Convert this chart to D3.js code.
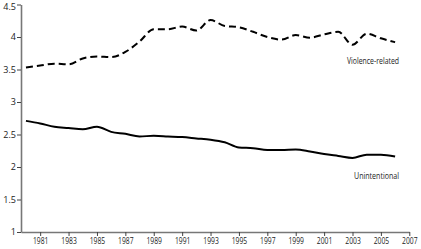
<!DOCTYPE html>
<html lang="en">
<head>
  <meta charset="UTF-8">
  <title>Violence-related vs unintentional</title>
  <script src="https://cdn.jsdelivr.net/npm/d3@7"></script>
  <style>
    body {
      margin: 0;
      background: #fff;
    }

    text {
      font-family: "Open Sans", sans-serif;
      fill: #222;
    }
  </style>
</head>
<body>
<svg id="chart" width="421" height="249"></svg>
<script>
  let years = d3.range(1980, 2007);
  let violence = [3.53, 3.56, 3.59, 3.58, 3.67, 3.70, 3.69, 3.77, 3.93, 4.12, 4.12, 4.16, 4.10, 4.26,
    4.17, 4.15, 4.08, 4.00, 3.96, 4.03, 3.99, 4.04, 4.08, 3.88, 4.05, 3.98, 3.92];
  let unintentional = [2.71, 2.67, 2.62, 2.60, 2.58, 2.62, 2.54, 2.51, 2.47, 2.48, 2.47, 2.46, 2.44, 2.42,
    2.38, 2.30, 2.29, 2.26, 2.26, 2.27, 2.24, 2.20, 2.17, 2.14, 2.19, 2.19, 2.16];
  let xTicks = d3.range(1981, 2008, 2);
  let yTicks = [1, 1.5, 2, 2.5, 3, 3.5, 4, 4.5];

  let svg = d3.select("#chart");

  let x = d3.scaleLinear().domain([1979.65, 2007]).range([21, 409.3]);
  let y = d3.scaleLinear().domain([1, 4.5]).range([232, 4.5]);

  let xAxis = svg.append("g")
      .attr("transform", "translate(0,232)")
      .call(d3.axisBottom(x).tickValues(xTicks).tickFormat(d3.format("d")).tickSize(4).tickSizeOuter(0));

  let yAxis = svg.append("g")
      .attr("transform", "translate(21,0)")
      .call(d3.axisLeft(y).tickValues(yTicks).tickFormat(d => d).tickSize(4).tickSizeOuter(0));

  [xAxis, yAxis].forEach(g => {
    g.select(".domain").attr("stroke", "#777").attr("stroke-width", 1.6);
    g.selectAll(".tick line").attr("stroke", "#444");
    g.selectAll(".tick text").attr("font-size", 9).attr("fill", "#222");
  });
  xAxis.selectAll(".tick text")
      .attr("dy", "0.55em")
      .attr("textLength", 15.5)
      .attr("lengthAdjust", "spacingAndGlyphs");
  yAxis.selectAll(".tick text").attr("x", -5);
  yAxis.selectAll(".tick").filter(d => d === 4.5).select("text").attr("dy", "0.5em");

  let line = d3.line().x((d, i) => x(years[i])).y(d => y(d)).curve(d3.curveMonotoneX);

  svg.append("path")
      .datum(violence)
      .attr("d", line)
      .attr("fill", "none")
      .attr("stroke", "#000")
      .attr("stroke-width", 2)
      .attr("stroke-dasharray", "7,4");

  svg.append("path")
      .datum(unintentional)
      .attr("d", line)
      .attr("fill", "none")
      .attr("stroke", "#000")
      .attr("stroke-width", 2);

  svg.append("text")
      .attr("x", 347)
      .attr("y", 64)
      .attr("font-size", 9)
      .attr("textLength", 52)
      .attr("lengthAdjust", "spacingAndGlyphs")
      .text("Violence-related");

  svg.append("text")
      .attr("x", 354)
      .attr("y", 179)
      .attr("font-size", 9)
      .attr("textLength", 45)
      .attr("lengthAdjust", "spacingAndGlyphs")
      .text("Unintentional");
</script>
</body>
</html>
